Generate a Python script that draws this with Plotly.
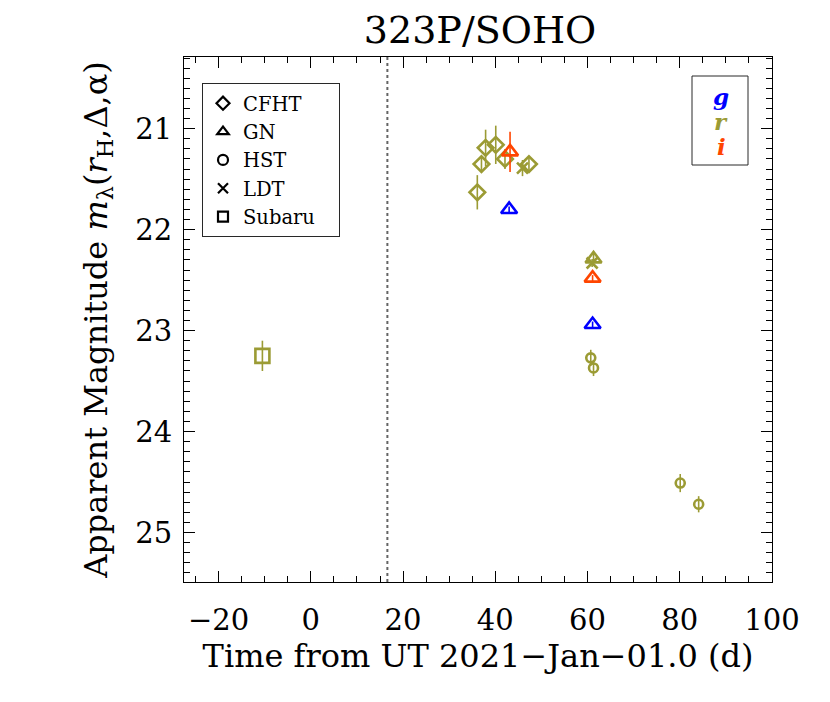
import plotly.graph_objects as go

# ---------------- data ----------------
TITLE = "323P/SOHO"
PERIHELION_DAY = 16.6

# CFHT (diamond), r filter
cfht_r_t = [36.1, 37.0, 37.9, 40.1, 42.1, 47.3]
cfht_r_m = [21.63, 21.35, 21.19, 21.16, 21.30, 21.35]
cfht_r_e = [0.17, 0.08, 0.18, 0.19, 0.10, 0.07]

# Gemini North (triangle)
gn_g_t = [43.0, 61.1]
gn_g_m = [21.80, 22.94]
gn_g_e = [0.03, 0.03]
gn_r_t = [61.3]
gn_r_m = [22.29]
gn_r_e = [0.04]
gn_i_t = [43.2, 61.1]
gn_i_m = [21.23, 22.48]
gn_i_e = [0.20, 0.03]

# HST (circle), r filter
hst_r_t = [60.7, 61.3, 80.1, 84.1]
hst_r_m = [23.27, 23.37, 24.51, 24.72]
hst_r_e = [0.08, 0.08, 0.09, 0.08]

# LDT (x), r filter
ldt_r_t = [45.9, 61.0]
ldt_r_m = [21.39, 22.33]
ldt_r_e = [0.08, 0.04]

# Subaru (square), r filter
sub_r_t = [-10.5]
sub_r_m = [23.25]
sub_r_e = [0.15]

telescopes = ["CFHT", "GN", "HST", "LDT", "Subaru"]
filters = ["g", "r", "i"]

# ---------------- styles ----------------
COL = {"g": "rgb(0,0,255)", "r": "rgb(155,155,52)", "i": "rgb(255,69,0)"}
SYM = {"CFHT": "diamond-open", "GN": "triangle-up-open", "HST": "circle-open",
       "LDT": "x-thin-open", "Subaru": "square-open"}
SIZE = {"CFHT": 12, "GN": 14, "HST": 9, "LDT": 11, "Subaru": 14}
FONT = "DejaVu Serif"

# page offset of the figure (browser default body margin)
OFF = 8
W, H = 830, 702
PL, PR, PT, PB = 184, 772, 57, 582          # plot area in page pixels
PW, PH = PR - PL, PB - PT


def px(x):
    return (x - PL) / PW


def py(y):
    return 1 - (y - PT) / PH


fig = go.Figure()


def add(tel, flt, t, m, e):
    fig.add_trace(go.Scatter(
        x=t, y=m, mode="markers", showlegend=False,
        error_y=dict(type="data", array=e, visible=True, color=COL[flt],
                     thickness=1.6, width=0),
        marker=dict(symbol=SYM[tel], size=SIZE[tel], color=COL[flt],
                    line=dict(color=COL[flt], width=2.6)),
    ))


add("Subaru", "r", sub_r_t, sub_r_m, sub_r_e)
add("CFHT", "r", cfht_r_t, cfht_r_m, cfht_r_e)
add("LDT", "r", ldt_r_t, ldt_r_m, ldt_r_e)
add("HST", "r", hst_r_t, hst_r_m, hst_r_e)
add("GN", "r", gn_r_t, gn_r_m, gn_r_e)
add("GN", "g", gn_g_t, gn_g_m, gn_g_e)
add("GN", "i", gn_i_t, gn_i_m, gn_i_e)

# legend entries (black symbols)
for tel in telescopes:
    fig.add_trace(go.Scatter(
        x=[None], y=[None], mode="markers", name=tel + "\u00a0\u00a0\u00a0", showlegend=True,
        marker=dict(symbol=SYM[tel], size=10, color="black",
                    line=dict(color="black", width=2.2)),
    ))

# perihelion dotted line
fig.add_shape(type="line", xref="x", yref="paper", x0=PERIHELION_DAY, x1=PERIHELION_DAY,
              y0=0, y1=1, line=dict(color="rgb(100,100,100)", width=2, dash="dot"), layer="below")

# filter key box
fig.add_shape(type="rect", xref="paper", yref="paper",
              x0=px(692), x1=px(748), y0=py(165), y1=py(76),
              line=dict(color="rgb(40,40,40)", width=1))
for k, flt in enumerate(filters):
    extra = {} if flt == "g" else dict(height=24)
    fig.add_annotation(xref="paper", yref="paper",
                       x=px(721), y=py(96 + 25 * k),
                       xanchor="center", yanchor="middle",
                       text="<b><i>%s</i></b>" % flt, showarrow=False,
                       font=dict(family=FONT, size=23, color=COL[flt]), **extra)

axis_common = dict(showline=True, linecolor="black", linewidth=1, mirror="ticks",
                   ticks="inside", tickcolor="black", showgrid=False, zeroline=False,
                   automargin=False,
                   tickfont=dict(family=FONT, size=29, color="black"))

fig.update_xaxes(range=[-27.5, 100], tickvals=[-20, 0, 20, 40, 60, 80, 100],
                 ticktext=["\u221220", "0", "20", "40", "60", "80", "100"],
                 ticklen=11,
                 minor=dict(ticks="inside", dtick=5, tick0=0, ticklen=6, tickcolor="black"),
                 ticklabelstandoff=12,
                 title=dict(text="Time from UT 2021\u2212Jan\u221201.0 (d)",
                            font=dict(family=FONT, size=32, color="black"), standoff=4),
                 **axis_common)
fig.update_yaxes(range=[25.49, 20.29], tickvals=[21, 22, 23, 24, 25], ticklen=11,
                 minor=dict(ticks="inside", dtick=0.1, tick0=0, ticklen=6, tickcolor="black"),
                 ticklabelstandoff=5,
                 title=dict(text="Apparent Magnitude <i>m</i><sub>\u03bb</sub>(<i>r</i><sub>H</sub>,\u0394,\u03b1)",
                            font=dict(family=FONT, size=32, color="black"), standoff=18),
                 **axis_common)

fig.update_layout(
    width=W, height=H,
    margin=dict(l=PL - OFF, r=W - (PR - OFF), t=PT - OFF, b=H - (PB - OFF), autoexpand=False),
    plot_bgcolor="white", paper_bgcolor="white",
    title=dict(text=TITLE, x=(480 - OFF) / W, xanchor="center", y=1 - (30 - OFF) / H,
               yanchor="middle", font=dict(family=FONT, size=38, color="black")),
    legend=dict(x=px(202), y=py(83), xanchor="left", yanchor="top",
                bordercolor="rgb(40,40,40)", borderwidth=1, bgcolor="white",
                font=dict(family=FONT, size=19.5, color="black"),
                itemwidth=30, tracegroupgap=0),
)

fig.write_html("out.html")
